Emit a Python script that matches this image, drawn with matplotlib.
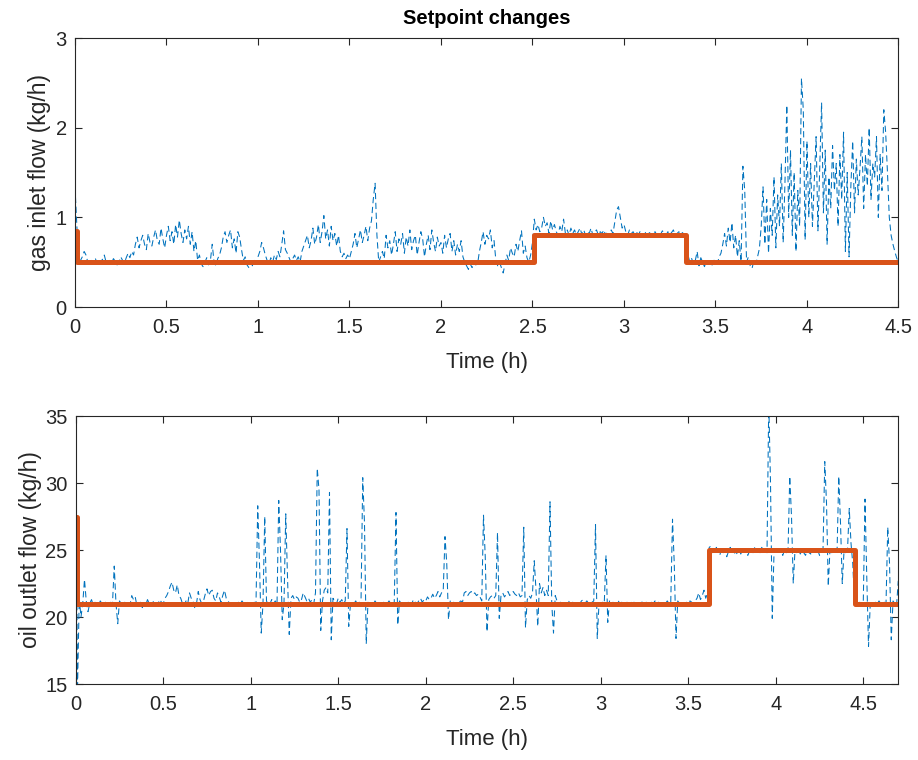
import numpy as np
import matplotlib
matplotlib.use("Agg")
import matplotlib.pyplot as plt

plt.rcParams['font.family'] = ['Liberation Sans', 'DejaVu Sans']

# ---- data ----
dt = 0.01
gas_flow = [
    1.34, 0.90, 0.48, 0.52, 0.56, 0.62, 0.58, 0.50, 0.47, 0.52,
    0.50, 0.55, 0.49, 0.46, 0.51, 0.53, 0.58, 0.50, 0.48, 0.52,
    0.49, 0.54, 0.51, 0.47, 0.50, 0.56, 0.52, 0.49, 0.55, 0.60,
    0.55, 0.62, 0.58, 0.70, 0.78, 0.66, 0.74, 0.80, 0.70, 0.64,
    0.82, 0.72, 0.68, 0.78, 0.86, 0.74, 0.70, 0.88, 0.76, 0.66,
    0.80, 0.90, 0.74, 0.84, 0.70, 0.92, 0.78, 0.97, 0.82, 0.72,
    0.86, 0.76, 0.90, 0.70, 0.84, 0.62, 0.74, 0.52, 0.58, 0.48,
    0.45, 0.50, 0.55, 0.47, 0.52, 0.70, 0.50, 0.46, 0.54, 0.58,
    0.66, 0.78, 0.84, 0.72, 0.80, 0.86, 0.66, 0.76, 0.60, 0.84,
    0.78, 0.64, 0.52, 0.56, 0.47, 0.44, 0.50, 0.46, 0.52, 0.50,
    0.56, 0.62, 0.72, 0.66, 0.58, 0.52, 0.48, 0.55, 0.50, 0.58,
    0.53, 0.62, 0.56, 0.70, 0.85, 0.64, 0.60, 0.55, 0.50, 0.54,
    0.58, 0.52, 0.56, 0.50, 0.62, 0.68, 0.74, 0.80, 0.66, 0.74,
    0.88, 0.70, 0.78, 0.92, 0.72, 0.84, 1.02, 0.76, 0.86, 0.68,
    0.90, 0.74, 0.82, 0.68, 0.80, 0.62, 0.56, 0.60, 0.54, 0.58,
    0.54, 0.62, 0.70, 0.82, 0.66, 0.76, 0.86, 0.72, 0.80, 0.90,
    0.74, 0.88, 0.96, 1.20, 1.38, 0.80, 0.50, 0.56, 0.62, 0.54,
    0.80, 0.66, 0.74, 0.58, 0.70, 0.84, 0.62, 0.76, 0.70, 0.82,
    0.60, 0.78, 0.68, 0.86, 0.64, 0.74, 0.80, 0.58, 0.72, 0.84,
    0.76, 0.56, 0.70, 0.80, 0.64, 0.86, 0.72, 0.62, 0.78, 0.68,
    0.72, 0.60, 0.80, 0.66, 0.76, 0.82, 0.62, 0.74, 0.58, 0.70,
    0.62, 0.74, 0.56, 0.50, 0.46, 0.42, 0.48, 0.44, 0.50, 0.47,
    0.48, 0.62, 0.72, 0.84, 0.70, 0.80, 0.76, 0.86, 0.66, 0.74,
    0.52, 0.46, 0.50, 0.44, 0.38, 0.48, 0.58, 0.52, 0.66, 0.60,
    0.56, 0.70, 0.62, 0.74, 0.85, 0.60, 0.68, 0.55, 0.50, 0.58,
    0.72, 0.98, 0.86, 0.92, 0.84, 0.88, 1.00, 0.90, 0.94, 0.82,
    0.96, 0.86, 0.92, 0.84, 0.80, 0.90, 0.84, 0.98, 0.82, 0.86,
    0.80, 0.88, 0.82, 0.86, 0.80, 0.84, 0.88, 0.81, 0.86, 0.80,
    0.84, 0.82, 0.88, 0.80, 0.84, 0.86, 0.80, 0.84, 0.82, 0.86,
    0.80, 0.84, 0.78, 0.86, 0.82, 0.95, 1.08, 1.12, 1.00, 0.88,
    0.92, 0.84, 0.80, 0.86, 0.82, 0.84, 0.80, 0.83, 0.81, 0.85,
    0.82, 0.80, 0.84, 0.81, 0.83, 0.80, 0.82, 0.84, 0.80, 0.83,
    0.81, 0.85, 0.82, 0.80, 0.84, 0.81, 0.83, 0.86, 0.80, 0.82,
    0.84, 0.81, 0.83, 0.80, 0.82, 0.58, 0.50, 0.54, 0.48, 0.52,
    0.62, 0.46, 0.55, 0.50, 0.45, 0.52, 0.48, 0.50, 0.46, 0.52,
    0.52, 0.48, 0.56, 0.60, 0.70, 0.82, 0.68, 0.88, 0.72, 0.94,
    0.66, 0.80, 0.56, 0.74, 0.50, 1.57, 1.30, 0.50, 0.56, 0.46,
    0.43, 0.52, 0.48, 0.56, 0.65, 0.90, 1.34, 0.70, 1.20, 0.60,
    1.10, 0.80, 1.45, 0.66, 1.25, 0.90, 1.60, 0.72, 1.40, 2.25,
    1.00, 1.75, 0.80, 1.50, 0.62, 1.30, 0.90, 2.55, 2.20, 0.75,
    1.85, 1.00, 1.60, 0.90, 1.40, 1.90, 0.85, 1.55, 2.28, 1.05,
    1.75, 0.70, 1.45, 1.10, 1.80, 1.30, 1.60, 0.90, 1.70, 1.20,
    1.95, 0.62, 1.50, 0.56, 1.35, 1.85, 1.05, 1.65, 1.25, 1.55,
    1.90, 1.10, 1.70, 1.35, 2.00, 1.20, 1.60, 1.45, 1.90, 1.00,
    1.70, 1.30, 2.20, 1.95, 1.50, 1.00, 0.80, 0.70, 0.62, 0.55,
    0.50,
]
oil_flow = [
    35.0, 14.5, 21.4, 20.0, 21.0, 22.8, 21.2, 20.4, 21.0, 21.3,
    20.9, 21.1, 21.0, 20.8, 21.2, 21.0, 20.9, 21.1, 21.0, 20.8,
    21.1, 21.0, 23.8, 21.0, 19.5, 21.2, 21.0, 20.9, 21.1, 21.0,
    21.2, 20.9, 21.6, 21.3, 21.5, 20.8, 21.0, 21.1, 20.7, 21.0,
    20.9, 21.3, 21.0, 20.8, 21.1, 21.2, 20.9, 21.0, 21.3, 21.1,
    21.0, 21.4, 21.6, 21.9, 22.3, 22.6, 22.0, 21.8, 22.4, 21.6,
    21.4, 21.0, 20.8, 21.2, 21.0, 21.8, 21.4, 21.2, 20.7, 21.0,
    21.9, 21.3, 21.0, 21.2, 21.7, 22.1, 21.6, 21.9, 22.0, 21.4,
    21.2, 21.8, 21.5, 21.1, 21.6, 22.0, 21.4, 21.2, 21.0, 20.9,
    21.1, 21.0, 20.9, 21.1, 21.0, 21.2, 21.0, 20.9, 21.1, 21.0,
    21.0, 20.8, 21.1, 21.0, 28.3, 24.0, 18.8, 21.0, 27.5, 21.2,
    20.9, 21.0, 21.3, 21.0, 21.2, 20.9, 28.7, 25.0, 19.8, 21.0,
    27.7, 23.0, 18.7, 21.4, 21.6, 21.3, 21.5, 21.4, 21.1, 21.3,
    21.8, 21.5, 21.2, 21.4, 21.1, 21.3, 21.0, 21.8, 31.1, 29.5,
    19.0, 21.2, 22.0, 22.2, 21.8, 29.3, 18.3, 21.4, 21.2, 21.0,
    21.4, 21.1, 21.3, 21.0, 21.2, 26.6, 19.3, 21.0, 21.1, 21.0,
    21.2, 20.9, 21.1, 21.0, 30.4, 27.0, 18.0, 21.1, 21.0, 20.9,
    20.9, 21.2, 21.0, 21.1, 20.9, 21.0, 21.1, 20.9, 21.0, 21.2,
    21.0, 20.9, 21.1, 27.8, 19.4, 21.2, 21.0, 21.1, 20.9, 21.0,
    21.1, 20.8, 21.0, 21.3, 21.1, 21.0, 21.2, 21.4, 21.1, 21.3,
    21.2, 21.5, 21.3, 21.4, 21.7, 21.4, 21.6, 21.9, 21.5, 21.8,
    22.0, 26.0, 24.0, 19.8, 21.2, 21.0, 21.1, 21.0, 20.9, 21.1,
    21.2, 21.1, 21.8, 21.9, 21.6, 21.8, 21.9, 21.7, 21.8, 21.6,
    21.7, 21.5, 21.2, 27.6, 24.5, 18.9, 21.3, 21.5, 21.6, 21.4,
    21.6, 26.3, 19.9, 21.6, 21.8, 21.5, 21.7, 21.9, 21.6, 21.8,
    21.9, 21.7, 21.6, 21.8, 21.5, 21.6, 26.7, 19.2, 21.3, 21.6,
    21.4, 21.8, 24.2, 22.0, 19.3, 22.5, 21.8, 22.2, 21.6, 22.0,
    21.6, 28.6, 21.0, 18.8, 21.6, 21.2, 21.0, 21.1, 21.0, 21.1,
    21.1, 20.9, 21.2, 21.0, 21.1, 21.0, 20.9, 21.1, 21.0, 21.2,
    21.3, 21.0, 21.2, 21.1, 21.0, 21.1, 21.2, 26.9, 18.4, 21.0,
    21.0, 21.1, 21.0, 24.6, 19.6, 21.2, 21.0, 21.1, 20.9, 21.0,
    21.2, 21.0, 21.1, 21.0, 20.9, 21.1, 21.0, 21.2, 21.0, 21.1,
    21.0, 21.1, 20.9, 21.0, 21.2, 21.0, 21.1, 21.0, 20.9, 21.1,
    21.0, 21.2, 21.0, 21.1, 21.0, 20.9, 21.1, 21.0, 21.2, 21.0,
    21.1, 27.3, 24.0, 18.4, 21.2, 21.0, 21.1, 21.0, 20.9, 21.1,
    21.0, 21.2, 21.1, 21.0, 21.2, 21.4, 21.8, 21.3, 21.6, 22.0,
    21.4, 21.8, 25.2, 25.3, 24.8, 25.0, 25.2, 24.9, 24.6, 25.1,
    24.8, 25.0, 24.5, 24.9, 25.2, 24.7, 25.0, 24.6, 24.8, 25.1,
    24.7, 25.0, 24.8, 25.1, 24.6, 24.9, 25.0, 24.8, 25.2, 24.9,
    25.0, 24.8, 25.2, 24.9, 25.1, 24.8, 36.0, 30.0, 19.9, 24.8,
    25.0, 24.7, 25.1, 24.9, 24.6, 25.0, 24.8, 24.9, 30.5, 27.5,
    22.5, 25.0, 24.8, 25.1, 24.7, 25.0, 24.8, 24.6, 25.0, 24.8,
    24.7, 25.1, 24.9, 24.8, 25.0, 24.6, 24.8, 25.0, 31.6, 28.5,
    22.3, 25.1, 24.8, 24.9, 25.0, 24.7, 30.5, 27.0, 22.5, 24.9,
    24.8, 25.0, 28.1, 25.5, 24.0, 21.0, 21.2, 20.9, 21.1, 21.0,
    21.0, 28.8, 23.0, 17.8, 21.0, 21.2, 20.9, 21.1, 21.0, 21.2,
    21.0, 20.9, 21.1, 21.0, 26.7, 24.0, 18.3, 21.2, 21.0, 20.8,
    22.7,
]
sp_gas_t = [0.0, 0.01, 2.51, 3.34, 4.5]
sp_gas_v = [0.85, 0.5, 0.8, 0.5, 0.5]
sp_oil_t = [0.0, 0.01, 3.62, 4.45, 4.7]
sp_oil_v = [27.5, 21.0, 25.0, 21.0, 21.0]
xtick_labels = ['0', '0.5', '1', '1.5', '2', '2.5', '3', '3.5', '4', '4.5']

gas_t = np.arange(len(gas_flow)) * dt
oil_t = np.arange(len(oil_flow)) * dt

BLUE = '#0072BD'
ORANGE = '#D95319'
AX = '#262626'

fig = plt.figure(figsize=(9.18, 7.6), dpi=100)
ax1 = fig.add_axes([0.0817, 0.596, 0.897, 0.354])
ax2 = fig.add_axes([0.0825, 0.100, 0.896, 0.3526])

def style(ax):
    for s in ax.spines.values():
        s.set_color(AX)
        s.set_linewidth(0.8)
    ax.tick_params(direction='in', top=True, right=True, colors=AX,
                   labelsize=14.5, length=5, width=0.8)
    ax.tick_params(axis='x', pad=8)
    ax.tick_params(axis='y', pad=6)

ax1.plot(gas_t, gas_flow, color=BLUE, lw=0.75, linestyle=(0, (6, 3.5)))
ax1.plot(sp_gas_t, sp_gas_v, color=ORANGE, lw=3.6, drawstyle='steps-post')
ax1.set_xlim(0, 4.5)
ax1.set_ylim(0, 3)
ax1.set_xticks(np.arange(0, 4.51, 0.5))
ax1.set_xticklabels(xtick_labels)
ax1.set_yticks([0, 1, 2, 3])
ax1.set_xlabel('Time (h)', fontsize=16, color=AX, labelpad=11)
ax1.set_ylabel('gas inlet flow (kg/h)', fontsize=16.5, color=AX, labelpad=3)
ax1.set_title('Setpoint changes', fontsize=14.5, fontweight='bold', color='black', pad=10)
style(ax1)

ax2.plot(oil_t, oil_flow, color=BLUE, lw=0.75, linestyle=(0, (6, 3.5)))
ax2.plot(sp_oil_t, sp_oil_v, color=ORANGE, lw=3.6, drawstyle='steps-post')
ax2.set_xlim(0, 4.7)
ax2.set_ylim(15, 35)
ax2.set_xticks(np.arange(0, 4.51, 0.5))
ax2.set_xticklabels(xtick_labels)
ax2.set_yticks([15, 20, 25, 30, 35])
ax2.set_xlabel('Time (h)', fontsize=16, color=AX, labelpad=11)
ax2.set_ylabel('oil outlet flow (kg/h)', fontsize=16.5, color=AX, labelpad=2)
style(ax2)

fig.savefig('out.png', dpi=100, facecolor='white')
